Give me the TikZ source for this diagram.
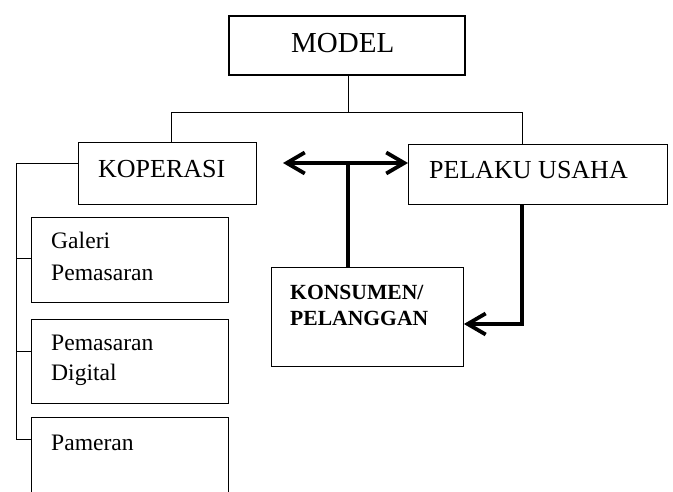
\documentclass[tikz,border=0pt]{standalone}
\usepackage{fontspec}
\setmainfont{Liberation Serif}
\usetikzlibrary{arrows.meta}
\begin{document}
\begin{tikzpicture}[x=1pt,y=-1pt,
  box/.style={draw,line width=0.9pt,inner sep=0pt,anchor=north west},
  thinline/.style={line width=0.9pt},
  heavy/.style={line width=3.6pt},
  barb/.tip={Straight Barb[length=18pt,width=21pt,line width=3.8pt]},
  lbl/.style={anchor=base west,inner sep=0pt},
  big/.style={font=\fontsize{26}{31}\selectfont},
  mid/.style={font=\fontsize{23.6}{28}\selectfont},
  bld/.style={font=\bfseries\fontsize{21.6}{26}\selectfont}
]
\clip (0,0) rectangle (673,492);
% boxes
\node[box,line width=2.2pt,minimum width=236pt,minimum height=59pt] (model) at (228,15) {};
\node[box,minimum width=178pt,minimum height=62pt] (kop) at (78,142) {};
\node[box,minimum width=259pt,minimum height=60pt] (pel) at (408,144) {};
\node[box,minimum width=197pt,minimum height=85pt] (gal) at (31,217) {};
\node[box,minimum width=197pt,minimum height=84pt] (dig) at (31,319) {};
\node[box,minimum width=197pt,minimum height=100pt] (pam) at (31,417) {};
\node[box,minimum width=192pt,minimum height=99pt] (kon) at (271,267) {};
% texts
\node[lbl,font=\fontsize{29}{35}\selectfont] (tmodel) at (291,53) {MODEL};
\node[lbl,big] (tkop) at (98,178) {KOPERASI};
\node[lbl,big] (tpel) at (429,179) {PELAKU USAHA};
\node[lbl,mid] (tgal1) at (51,249) {Galeri};
\node[lbl,mid] (tgal2) at (51,280) {Pemasaran};
\node[lbl,mid] (tdig1) at (51,350) {Pemasaran};
\node[lbl,mid] (tdig2) at (51,380) {Digital};
\node[lbl,mid] (tpam) at (51,450) {Pameran};
\node[lbl,bld] (tkon1) at (290,300) {KONSUMEN/};
\node[lbl,bld] (tkon2) at (290,325) {PELANGGAN};
% tree connectors
\coordinate (jl) at (171,112);
\coordinate (jr) at (522,112);
\coordinate (jm) at (348,112);
\draw[thinline] (model.south -| jm) -- (jm);
\draw[thinline] (jl |- kop.north) -- (jl) -- (jr) -- (jr |- pel.north);
% bracket
\coordinate (bt) at (16,163);
\coordinate (b1) at (16,258);
\coordinate (b2) at (16,351);
\coordinate (b3) at (16,439);
\draw[thinline] (kop.west |- bt) -- (bt) -- (b3) -- (b3 -| pam.west);
\draw[thinline] (b1) -- (b1 -| gal.west);
\draw[thinline] (b2) -- (b2 -| dig.west);
% heavy arrows
\coordinate (hl) at (283,163);
\coordinate (hv) at (348,163);
\coordinate (rx) at (522,324);
\draw[heavy,{barb}-{barb}] (hl) -- (hl -| pel.west);
\draw[heavy] (kon.north -| hv) -- (hv);
\draw[heavy,-{barb}] (rx |- pel.south) -- (rx) -- (rx -| kon.east);
\end{tikzpicture}
\end{document}
